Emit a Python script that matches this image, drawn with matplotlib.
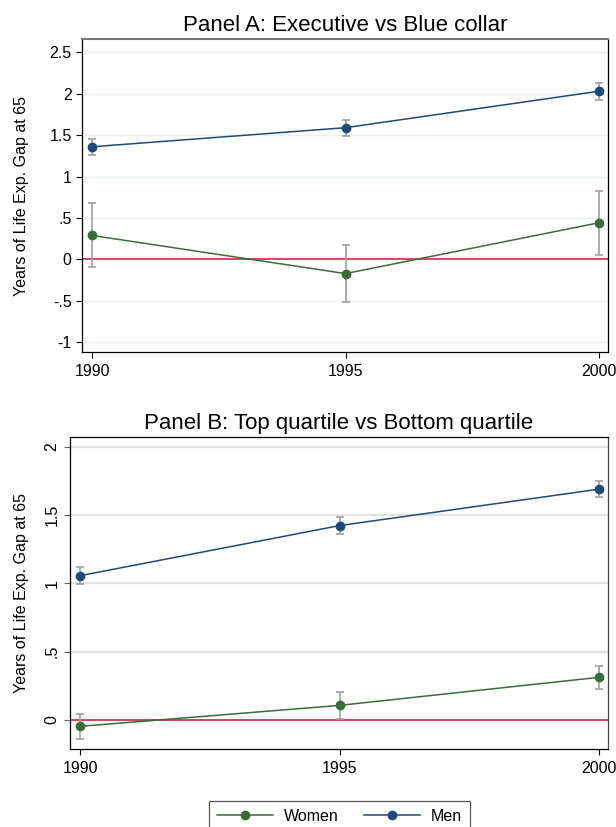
import matplotlib
matplotlib.use("Agg")
import matplotlib.pyplot as plt
from matplotlib.lines import Line2D

plt.rcParams['font.family'] = ['Liberation Sans', 'DejaVu Sans']

years = [1990, 1995, 2000]

# Panel A: Executive vs Blue collar
a_men = [1.36, 1.59, 2.03]
a_men_lo = [1.26, 1.495, 1.93]
a_men_hi = [1.455, 1.687, 2.133]
a_women = [0.29, -0.17, 0.443]
a_women_lo = [-0.092, -0.518, 0.06]
a_women_hi = [0.678, 0.171, 0.829]

# Panel B: Top quartile vs Bottom quartile
b_men = [1.056, 1.422, 1.688]
b_men_lo = [0.993, 1.359, 1.629]
b_men_hi = [1.117, 1.488, 1.751]
b_women = [-0.046, 0.107, 0.312]
b_women_lo = [-0.141, 0.01, 0.224]
b_women_hi = [0.046, 0.205, 0.398]

a_yticks = [-1, -0.5, 0, 0.5, 1, 1.5, 2, 2.5]
a_ylabels = ['-1', '-.5', '0', '.5', '1', '1.5', '2', '2.5']
b_yticks = [0, 0.5, 1, 1.5, 2]
b_ylabels = ['0', '.5', '1', '1.5', '2']

MEN = '#1f4a78'
WOMEN = '#3b6b3a'
ERR = '#a0a0a0'
ZERO = '#c41e3a'

W, H = 616, 827
fig = plt.figure(figsize=(W / 100, H / 100), dpi=100)

axA = fig.add_axes([82 / W, 1 - 352 / H, (608 - 82) / W, (352 - 39) / H])
axB = fig.add_axes([70 / W, 1 - 749 / H, (608 - 70) / W, (749 - 437) / H])

TICK_FS = 11.5
LAB_FS = 11.5
TITLE_FS = 16


def draw(ax, men, mlo, mhi, women, wlo, whi, gridcol, gridlw):
    for vals, lo, hi, col in [(women, wlo, whi, WOMEN), (men, mlo, mhi, MEN)]:
        ax.errorbar(years, vals,
                    yerr=[[v - l for v, l in zip(vals, lo)], [h - v for v, h in zip(vals, hi)]],
                    fmt='none', ecolor=ERR, elinewidth=1.2, capsize=3.2, capthick=1.2, zorder=3)
        ax.plot(years, vals, color=col, lw=1.1, marker='o', ms=6, zorder=4)
    ax.axhline(0, color=ZERO, lw=1.1, zorder=2)
    ax.grid(axis='y', color=gridcol, lw=gridlw, zorder=0)
    ax.set_axisbelow(True)
    ax.set_xticks(years)
    ax.set_xticklabels([str(y) for y in years])
    ax.set_xlim(1989.8, 2000.18)
    ax.tick_params(axis='both', direction='out', length=4.5, width=0.8, labelsize=TICK_FS)
    ax.tick_params(axis='x', pad=4)
    ax.set_ylabel('Years of Life Exp. Gap at 65', fontsize=LAB_FS)
    for s in ax.spines.values():
        s.set_linewidth(0.9)


draw(axA, a_men, a_men_lo, a_men_hi, a_women, a_women_lo, a_women_hi, '#e6eff1', 1.0)
axA.set_yticks(a_yticks)
axA.set_yticklabels(a_ylabels)
axA.set_ylim(-1.116, 2.66)
axA.tick_params(axis='y', pad=3)
axA.spines['top'].set_color('#777777')
axA.spines['top'].set_linewidth(1.5)
axA.set_title('Panel A: Executive vs Blue collar', fontsize=TITLE_FS, pad=6)
axA.yaxis.set_label_coords(-0.1, 0.5)

draw(axB, b_men, b_men_lo, b_men_hi, b_women, b_women_lo, b_women_hi, '#e2e2e2', 1.6)
axB.set_yticks(b_yticks)
axB.set_yticklabels(b_ylabels, rotation=90, va='center')
axB.set_ylim(-0.212, 2.07)
axB.tick_params(axis='y', pad=3, color='#666666')
axB.spines['right'].set_color('#444444')
axB.set_title('Panel B: Top quartile vs Bottom quartile', fontsize=TITLE_FS, pad=6)
axB.yaxis.set_label_coords(-0.077, 0.5)

handles = [Line2D([], [], color=WOMEN, lw=1.1, marker='o', ms=6),
           Line2D([], [], color=MEN, lw=1.1, marker='o', ms=6)]
leg = fig.legend(handles, ['Women', 'Men'], loc='upper center',
                 bbox_to_anchor=(339.5 / W, 1 - 801 / H), ncol=2, frameon=True,
                 fancybox=False, edgecolor='#333333', fontsize=11.5,
                 handlelength=3.5, handletextpad=0.7, columnspacing=1.6,
                 borderpad=0.5, borderaxespad=0)
leg.get_frame().set_linewidth(0.9)

fig.savefig('out.png', dpi=100)
